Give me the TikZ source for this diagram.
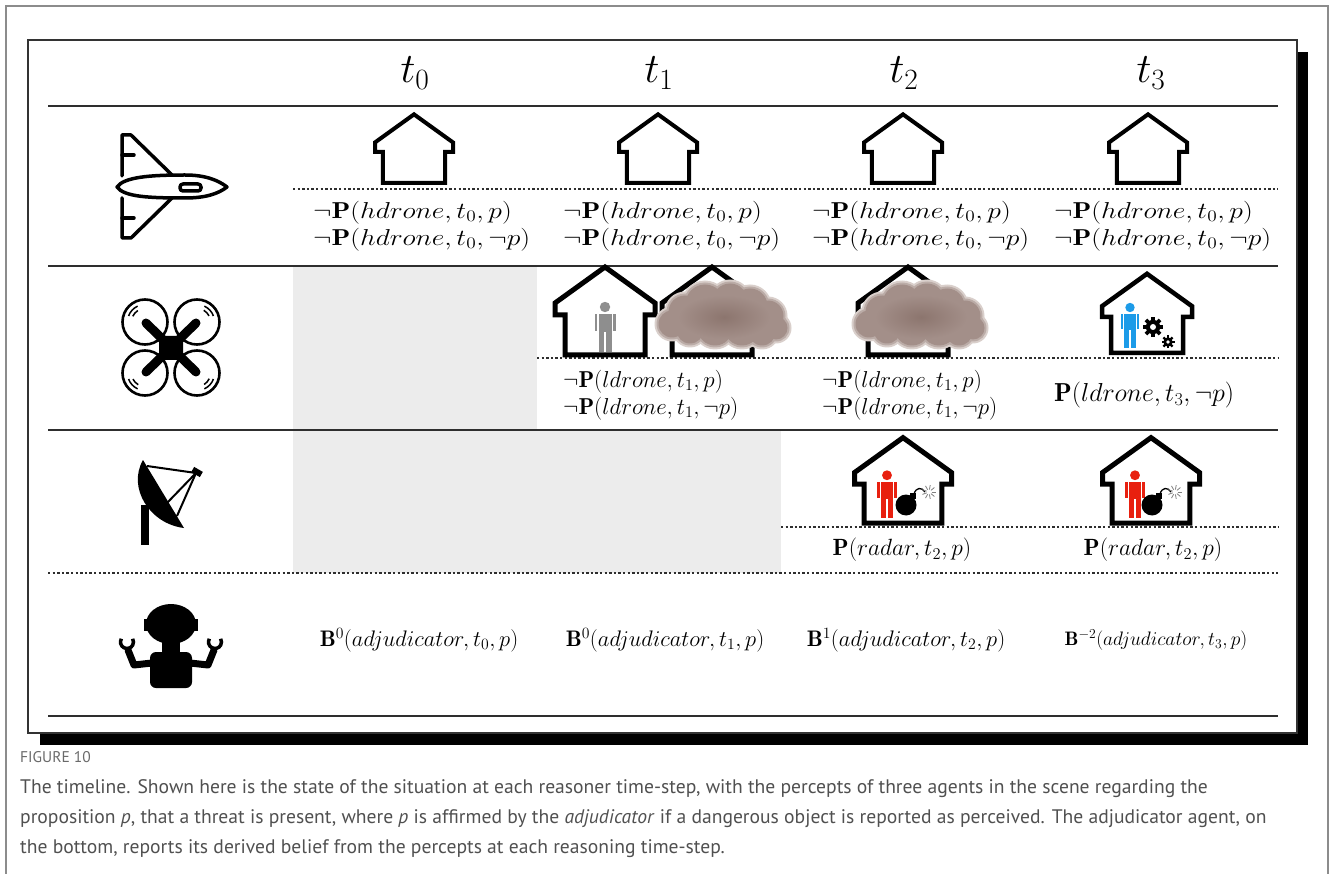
\RequirePackage{fix-cm}
\documentclass[tikz,border=0pt]{standalone}
\usepackage{amsmath}
\usepackage{graphicx}
\usepackage{fontspec}
\newfontfamily\capfont{PT Sans}
\usepackage{tikz}
\usetikzlibrary{positioning, calc}

\definecolor{rule_gray}{HTML}{2E2E2E}
\definecolor{frame_gray}{HTML}{8C8C8C}
\definecolor{shade_gray}{HTML}{ECECEC}
\definecolor{cap_gray}{HTML}{505050}
\definecolor{fig_gray}{HTML}{6A6A6A}
\definecolor{cloud_rim}{HTML}{D9CFCB}
\definecolor{cloud_edge}{HTML}{BBACA7}
\definecolor{cloud_body}{HTML}{A38F89}
\definecolor{cloud_core}{HTML}{8C756E}
\definecolor{agent_gray}{HTML}{8E8E8E}
\definecolor{agent_blue}{HTML}{1C9BE8}
\definecolor{agent_red}{HTML}{E8200F}

\newcommand{\stretchrow}[1]{\scalebox{1.2}[1]{#1}}

\tikzset{
    frame_line/.style={draw=frame_gray, line width=1.6pt},
    box_frame/.style={draw=black!80, fill=white, line width=1.5pt},
    rule_solid/.style={draw=rule_gray, line width=1.8pt},
    rule_dotted/.style={draw=rule_gray, line width=1.6pt, dash pattern=on 2.4pt off 2.2pt},
    head_lbl/.style={font=\fontsize{42}{42}\selectfont, inner sep=0pt},
    fact_lbl/.style={font=\fontsize{23}{27}\selectfont, align=left, inner sep=0pt},
    belief_lbl/.style={font=\fontsize{22.5}{27}\selectfont, inner sep=0pt},
    cap_fig/.style={font=\capfont\fontsize{15.5}{17}\selectfont, text=fig_gray, inner sep=0pt},
    cap_txt/.style={font=\capfont\fontsize{19.6}{30}\selectfont, text=cap_gray, align=left, inner sep=0pt},
    icon_line/.style={draw=black, line width=3.5pt, line join=round, line cap=round},
    pics/house/.style={code={
        \draw[fill=white, line width=#1, line join=miter]
            (0,-88) -- (-50,-52) -- (-50,-40) -- (-40,-40) -- (-40,0)
            -- (40,0) -- (40,-40) -- (50,-40) -- (50,-52) -- cycle;
    }},
    pics/person/.style={code={
        \fill[#1] (0,-45) circle (5.2);
        \fill[#1] (-6.5,-38) rectangle (6.5,-20);
        \fill[#1] (-10.5,-38) rectangle (-7.8,-21);
        \fill[#1] (7.8,-38) rectangle (10.5,-21);
        \fill[#1] (-6.5,-20) rectangle (-0.7,0);
        \fill[#1] (0.7,-20) rectangle (6.5,0);
    }},
    pics/gear/.style={code={
        \fill (0,0) circle (0.72*#1);
        \foreach \a in {0,45,...,315}
            \fill[rotate=\a] (-0.18*#1,0) rectangle (0.18*#1,#1);
        \fill[white] (0,0) circle (0.3*#1);
    }},
    pics/bomb/.style={code={
        \fill (0,0) circle (10.5);
        \fill (4,-12) rectangle (10,-6);
        \draw[line width=1.3pt] (8,-11) .. controls (10,-18) and (16,-18) .. (19,-13);
        \foreach \a in {0,40,...,320}
            \draw[black!50, line width=0.8pt] (23,-13) ++(\a:2.5) -- ++(\a:4.5);
    }},
    pics/smoke_cloud/.style={code={
        \foreach \cx/\cy/\r in {-48/6/14, -35/-6/17, -15/-14/20, 10/-17/18, 30/-12/18,
                               48/-2/16, 56/10/12, -30/12/14, -5/10/18, 22/10/18, 42/14/14}
            \fill[cloud_rim] (\cx,\cy) circle (\r+3.5);
        \foreach \cx/\cy/\r in {-48/6/14, -35/-6/17, -15/-14/20, 10/-17/18, 30/-12/18,
                               48/-2/16, 56/10/12, -30/12/14, -5/10/18, 22/10/18, 42/14/14}
            \fill[cloud_edge] (\cx,\cy) circle (\r+1.5);
        \foreach \cx/\cy/\r in {-48/6/14, -35/-6/17, -15/-14/20, 10/-17/18, 30/-12/18,
                               48/-2/16, 56/10/12, -30/12/14, -5/10/18, 22/10/18, 42/14/14}
            \fill[cloud_body] (\cx,\cy) circle (\r-0.5);
        \shade[inner color=cloud_core, outer color=cloud_body] (4,-1) ellipse (46 and 22);
    }}
}

\begin{document}
\begin{tikzpicture}[x=1pt, y=-1pt]

    \useasboundingbox (0,0) rectangle (1330,874);

    \draw[frame_line] (6,874) -- (6,6) -- (1328,6) -- (1328,874);

    \fill[black] (40,52) rectangle (1308,745);
    \draw[box_frame] (28,40) rectangle (1297,733);

    \fill[shade_gray] (293,266) rectangle (537,430);
    \fill[shade_gray] (293,430) rectangle (781,573);

    \draw[rule_solid] (48,106) -- (1278,106);
    \draw[rule_solid] (48,266) -- (1278,266);
    \draw[rule_solid] (48,430) -- (1278,430);
    \draw[rule_dotted] (48,573) -- (1278,573);
    \draw[rule_solid] (48,716) -- (1278,716);
    \draw[rule_dotted] (293,189) -- (1278,189);
    \draw[rule_dotted] (537,358) -- (1278,358);
    \draw[rule_dotted] (781,527) -- (1278,527);

    \node[head_lbl] (hdr_t0) at (415,73) {$t_0$};
    \node[head_lbl] (hdr_t1) at (659,73) {$t_1$};
    \node[head_lbl] (hdr_t2) at (904,73) {$t_2$};
    \node[head_lbl] (hdr_t3) at (1151,73) {$t_3$};

    % hdrone
    \draw[icon_line] (117,187) .. controls (124,177) and (150,175) .. (185,175)
        .. controls (205,175) and (218,180) .. (227,187)
        .. controls (218,194) and (205,198) .. (185,198)
        .. controls (150,198) and (124,197) .. (117,187) -- cycle;
    \draw[icon_line, rounded corners=3pt] (180,184) rectangle (201,191);
    \draw[icon_line] (172,175) -- (131,135) -- (122,135) -- (122,176);
    \draw[icon_line] (172,198) -- (131,238) -- (122,238) -- (122,198);
    \draw[icon_line] (122,155) -- (134,155);
    \draw[icon_line] (122,218) -- (134,218);

    % ldrone
    \foreach \cx/\cy in {145/322, 197/322, 145/373, 197/373}
        \draw[line width=2.6pt] (\cx,\cy) circle (22.5);
    \draw[line width=9pt, line cap=round] (146,323) -- (196,372) (196,323) -- (146,372);
    \fill[rounded corners=3pt] (159,336) rectangle (183,360);
    \foreach \cx/\cy/\a in {145/322/200, 197/322/295, 145/373/115, 197/373/20} {
        \draw[line width=1.5pt] (\cx,\cy) ++(\a:17.5) arc[start angle=\a, end angle=\a+45, radius=17.5];
        \draw[line width=1.5pt] (\cx,\cy) ++(\a+5:13.5) arc[start angle=\a+5, end angle=\a+38, radius=13.5];
    }

    % radar
    \fill (141,505) rectangle (149,545);
    \fill (143,460) .. controls (127,488) and (150,524) .. (184,528) -- cycle;
    \draw[line width=2pt] (147,466) -- (196,473) -- (167,503);
    \draw[line width=2pt] (196,473) -- (177,516);
    \fill[rotate around={-30:(197,472)}] (192,469) rectangle (202,475);

    % adjudicator
    \fill (171,624) ellipse (25 and 20);
    \fill (144,619) rectangle (148,631);
    \fill (194,619) rectangle (198,631);
    \fill (162,640) rectangle (180,656);
    \fill[rounded corners=6pt] (150,688) -- (150,652) -- (192,652) -- (192,688) -- cycle;
    \draw[line width=7pt, line cap=round, line join=round] (152,663) -- (134,665) -- (128,650);
    \draw[line width=7pt, line cap=round, line join=round] (190,663) -- (208,665) -- (214,650);
    \draw[line width=3.5pt] (127,642) ++(210:6.5) arc[start angle=210, end angle=-30, radius=6.5];
    \draw[line width=3.5pt] (215,642) ++(210:6.5) arc[start angle=210, end angle=-30, radius=6.5];

    % row of hdrone percepts
    \foreach \hx in {414, 658, 903, 1148}
        \pic[scale=0.78] at (\hx,183) {house=4pt};

    \node[fact_lbl, anchor=west] (h_t0) at (313,226)
        {\stretchrow{$\neg\mathbf{P}(hdrone, t_0, p)$}\\\stretchrow{$\neg\mathbf{P}(hdrone, t_0, \neg p)$}};
    \node[fact_lbl, anchor=west] (h_t1) at (563,226)
        {\stretchrow{$\neg\mathbf{P}(hdrone, t_0, p)$}\\\stretchrow{$\neg\mathbf{P}(hdrone, t_0, \neg p)$}};
    \node[fact_lbl, anchor=west] (h_t2) at (812,226)
        {\stretchrow{$\neg\mathbf{P}(hdrone, t_0, p)$}\\\stretchrow{$\neg\mathbf{P}(hdrone, t_0, \neg p)$}};
    \node[fact_lbl, anchor=west] (h_t3) at (1054,226)
        {\stretchrow{$\neg\mathbf{P}(hdrone, t_0, p)$}\\\stretchrow{$\neg\mathbf{P}(hdrone, t_0, \neg p)$}};

    % row of ldrone percepts
    \pic at (605,355) {house=5pt};
    \pic at (605,352) {person=agent_gray};
    \pic at (712,355) {house=5pt};
    \pic at (720,318) {smoke_cloud};
    \pic at (908,355) {house=5pt};
    \pic at (917,318) {smoke_cloud};
    \pic[scale=0.9] at (1147,353) {house=4.5pt};
    \pic[scale=0.9] at (1130,348) {person=agent_blue};
    \pic at (1153,327) {gear=10};
    \pic at (1168,342) {gear=6.5};

    \node[fact_lbl, anchor=west] (l_t1) at (563,395)
        {$\neg\mathbf{P}(ldrone, t_1, p)$\\$\neg\mathbf{P}(ldrone, t_1, \neg p)$};
    \node[fact_lbl, anchor=west] (l_t2) at (822,395)
        {$\neg\mathbf{P}(ldrone, t_1, p)$\\$\neg\mathbf{P}(ldrone, t_1, \neg p)$};
    \node[fact_lbl, anchor=west, font=\fontsize{26}{30}\selectfont] (l_t3) at (1054,395)
        {$\mathbf{P}(ldrone, t_3, \neg p)$};

    % row of radar percepts
    \pic[scale=0.97] at (903,523) {house=5pt};
    \pic[scale=0.95] at (887,518) {person=agent_red};
    \pic at (906,505) {bomb};
    \pic[scale=0.97] at (1151,523) {house=5pt};
    \pic[scale=0.95] at (1135,518) {person=agent_red};
    \pic at (1152,505) {bomb};

    \node[fact_lbl, font=\fontsize{23.5}{28}\selectfont] (r_t2) at (902,550) {$\mathbf{P}(radar, t_2, p)$};
    \node[fact_lbl, font=\fontsize{23.5}{28}\selectfont] (r_t3) at (1153,550) {$\mathbf{P}(radar, t_2, p)$};

    % adjudicator beliefs
    \node[belief_lbl] (b_t0) at (419,640) {$\mathbf{B}^0(adjudicator, t_0, p)$};
    \node[belief_lbl] (b_t1) at (665,640) {$\mathbf{B}^0(adjudicator, t_1, p)$};
    \node[belief_lbl] (b_t2) at (906,640) {$\mathbf{B}^1(adjudicator, t_2, p)$};
    \node[belief_lbl, font=\fontsize{19.5}{24}\selectfont] (b_t3) at (1156,640) {$\mathbf{B}^{-2}(adjudicator, t_3, p)$};

    \node[cap_fig, anchor=base west] (fig_no) at (20,762) {FIGURE 10};
    \node[cap_txt, anchor=north west] (fig_cap) at (20,779)
        {The timeline. Shown here is the state of the situation at each reasoner time-step, with the percepts of three agents in the scene regarding the\\
         proposition \textit{p}, that a threat is present, where \textit{p} is affirmed by the \textit{adjudicator} if a dangerous object is reported as perceived. The adjudicator agent, on\\
         the bottom, reports its derived belief from the percepts at each reasoning time-step.};

\end{tikzpicture}
\end{document}
